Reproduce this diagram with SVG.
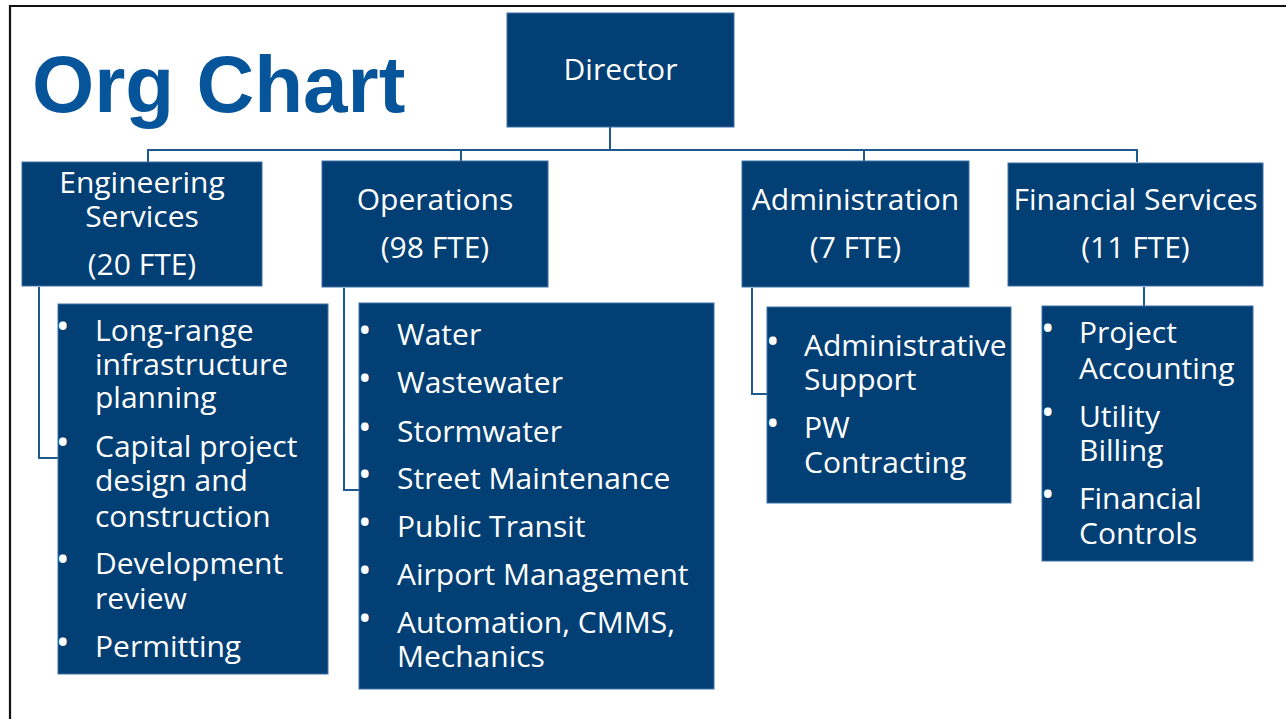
<svg xmlns="http://www.w3.org/2000/svg" width="1286" height="719" viewBox="0 0 1286 719">
<style>
.box{fill:#023F74;stroke:#3E72A8;stroke-width:1}
.t2{font-family:"Open Sans","Noto Sans","DejaVu Sans",sans-serif;font-size:30px;fill:#ffffff;text-anchor:middle}
.t3{font-family:"Open Sans","Noto Sans","DejaVu Sans",sans-serif;font-size:30px;fill:#ffffff}
.b{font-family:"Open Sans","Noto Sans","DejaVu Sans",sans-serif;font-size:36px;fill:#ffffff}
.c{fill:none;stroke:#1F5A8E;stroke-width:2}
.title{font-family:"Liberation Sans",Arial,sans-serif;font-weight:bold;font-size:80px;fill:#06549A}
</style>
<rect x="0" y="0" width="1286" height="719" fill="#ffffff"/>
<path d="M10,719 V6 H1286" fill="none" stroke="#111111" stroke-width="2.2"/>
<text class="title" x="32" y="112">Org Chart</text>

<g id="connectors">
<path class="c" d="M610,127 V150"/>
<path class="c" d="M148,162 V150 H1137 V162"/>
<path class="c" d="M461,150 V161"/>
<path class="c" d="M864,150 V161"/>
<path class="c" d="M39,287 V458 H58"/>
<path class="c" d="M344,288 V490 H359"/>
<path class="c" d="M752,288 V394 H767"/>
<path class="c" d="M1144,287 V306"/>
</g>

<g id="director">
<rect class="box" x="507" y="13" width="227" height="114"/>
<text class="t2" x="620.5" y="80">Director</text>
</g>

<g id="engineering">
<rect class="box" x="22" y="162" width="240" height="124"/>
<text class="t2" x="142" y="193">Engineering</text>
<text class="t2" x="142" y="227">Services</text>
<text class="t2" x="142" y="275">(20 FTE)</text>
</g>

<g id="operations">
<rect class="box" x="322" y="161" width="226" height="126"/>
<text class="t2" x="435" y="210">Operations</text>
<text class="t2" x="435" y="258">(98 FTE)</text>
</g>

<g id="administration">
<rect class="box" x="742" y="161" width="227" height="126"/>
<text class="t2" x="855.5" y="210">Administration</text>
<text class="t2" x="855.5" y="258">(7 FTE)</text>
</g>

<g id="financial">
<rect class="box" x="1008" y="163" width="255" height="123"/>
<text class="t2" x="1135.5" y="210">Financial Services</text>
<text class="t2" x="1135.5" y="258">(11 FTE)</text>
</g>

<g id="engineering-list">
<rect class="box" x="58" y="304" width="270" height="370"/>
<text class="b" x="56" y="339">•</text>
<text class="t3" x="95" y="341">Long-range</text>
<text class="t3" x="95" y="375">infrastructure</text>
<text class="t3" x="95" y="408">planning</text>
<text class="b" x="56" y="455">•</text>
<text class="t3" x="95" y="457">Capital project</text>
<text class="t3" x="95" y="491">design and</text>
<text class="t3" x="95" y="527">construction</text>
<text class="b" x="56" y="572">•</text>
<text class="t3" x="95" y="574">Development</text>
<text class="t3" x="95" y="609">review</text>
<text class="b" x="56" y="655">•</text>
<text class="t3" x="95" y="657">Permitting</text>
</g>

<g id="operations-list">
<rect class="box" x="359" y="303" width="355" height="386"/>
<text class="b" x="358" y="343">•</text>
<text class="t3" x="397" y="345">Water</text>
<text class="b" x="358" y="391">•</text>
<text class="t3" x="397" y="393">Wastewater</text>
<text class="b" x="358" y="440">•</text>
<text class="t3" x="397" y="442">Stormwater</text>
<text class="b" x="358" y="487">•</text>
<text class="t3" x="397" y="489">Street Maintenance</text>
<text class="b" x="358" y="535">•</text>
<text class="t3" x="397" y="537">Public Transit</text>
<text class="b" x="358" y="583">•</text>
<text class="t3" x="397" y="585">Airport Management</text>
<text class="b" x="358" y="631">•</text>
<text class="t3" x="397" y="633">Automation, CMMS,</text>
<text class="t3" x="397" y="667">Mechanics</text>
</g>

<g id="administration-list">
<rect class="box" x="767" y="307" width="244" height="196"/>
<text class="b" x="766" y="354">•</text>
<text class="t3" x="804" y="356">Administrative</text>
<text class="t3" x="804" y="390">Support</text>
<text class="b" x="766" y="436">•</text>
<text class="t3" x="804" y="438">PW</text>
<text class="t3" x="804" y="473">Contracting</text>
</g>

<g id="financial-list">
<rect class="box" x="1042" y="306" width="211" height="255"/>
<text class="b" x="1041" y="341">•</text>
<text class="t3" x="1079" y="343">Project</text>
<text class="t3" x="1079" y="379">Accounting</text>
<text class="b" x="1041" y="425">•</text>
<text class="t3" x="1079" y="427">Utility</text>
<text class="t3" x="1079" y="461">Billing</text>
<text class="b" x="1041" y="507">•</text>
<text class="t3" x="1079" y="509">Financial</text>
<text class="t3" x="1079" y="544">Controls</text>
</g>
</svg>
